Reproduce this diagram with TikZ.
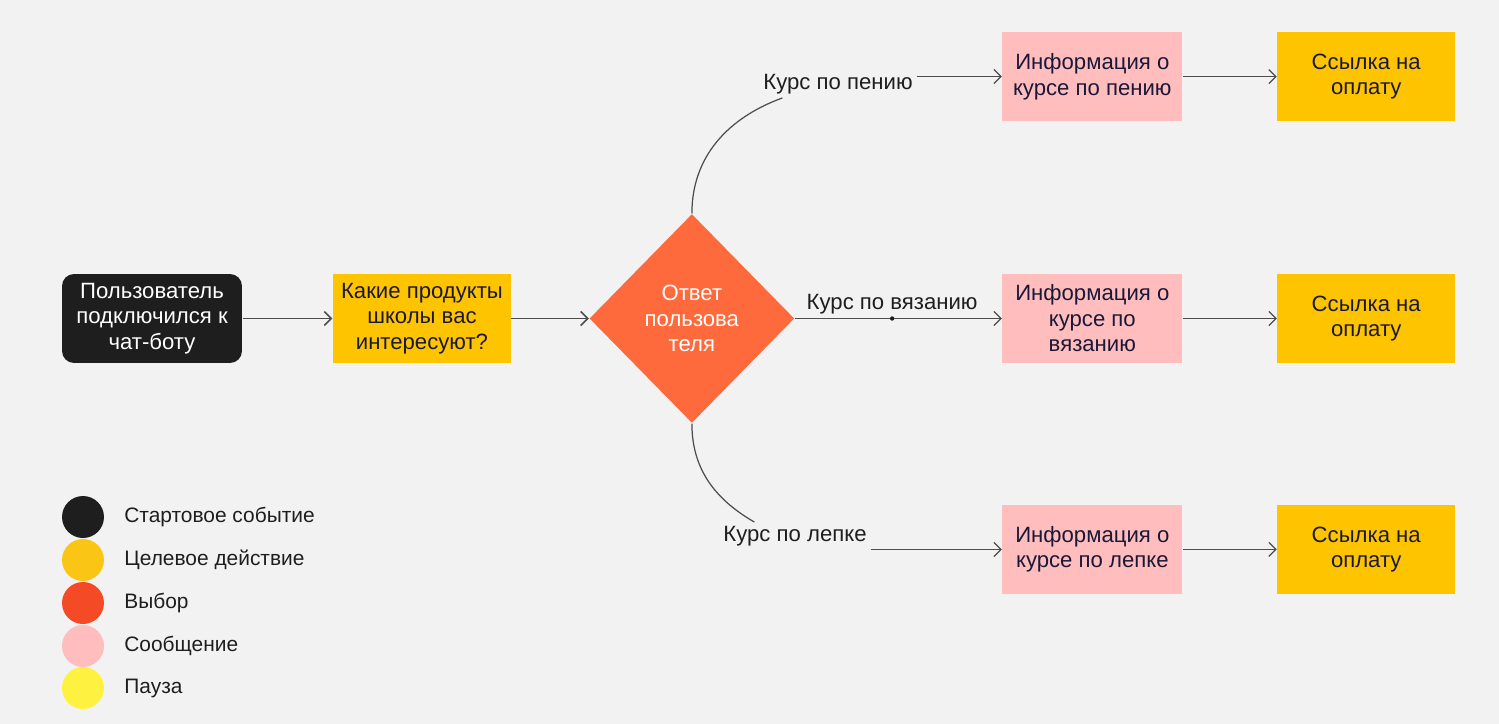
\documentclass[tikz,border=0pt]{standalone}
\usepackage{fontspec}
\setmainfont{Liberation Sans}
\usetikzlibrary{shapes.geometric,arrows.meta,positioning}

\definecolor{bgcol}{HTML}{F2F2F2}
\definecolor{startcol}{HTML}{1E1E1E}
\definecolor{targetcol}{HTML}{FFC400}
\definecolor{choicecol}{HTML}{FF6A3D}
\definecolor{msgcol}{HTML}{FFBDBD}
\definecolor{boxtext}{HTML}{1A1838}
\definecolor{linecol}{HTML}{4D4D4D}
\definecolor{legtarget}{HTML}{FAC515}
\definecolor{legchoice}{HTML}{F44A26}
\definecolor{legpause}{HTML}{FFF140}

\begin{document}
\begin{tikzpicture}[x=0.02cm, y=-0.02cm, node distance=5.4cm, semithick,
    every node/.style={font=\fontsize{12.6}{14.5}\selectfont}]
  \tikzstyle{startev} = [rectangle, rounded corners=0.24cm, fill=startcol, text=white,
    align=center, minimum width=3.6cm, minimum height=1.78cm]
  \tikzstyle{target} = [rectangle, fill=targetcol, text=boxtext, align=center,
    minimum width=3.56cm, minimum height=1.78cm]
  \tikzstyle{choice} = [diamond, fill=choicecol, text=white, align=center,
    minimum width=4.1cm, minimum height=4.18cm, inner sep=0pt]
  \tikzstyle{message} = [rectangle, fill=msgcol, text=boxtext, align=center,
    minimum width=3.6cm, minimum height=1.78cm]
  \tikzstyle{answer} = [text=startcol, inner sep=2pt]
  \tikzstyle{knotdot} = [circle, fill=startcol, inner sep=0pt, minimum size=2.5pt]
  \tikzstyle{legdot} = [circle, inner sep=0pt, minimum size=0.84cm]
  \tikzstyle{legtext} = [text=startcol, anchor=west, font=\fontsize{11.9}{14}\selectfont]
  \tikzstyle{line} = [draw=linecol, line width=0.7pt, -{Straight Barb[length=4pt,width=8pt]}]
  \tikzstyle{curve} = [draw=linecol, line width=0.7pt]

  \fill [bgcol] (0,0) rectangle (1499,724);

  % Place nodes
  \node [startev] (start) at (152,318.5) {Пользователь\\подключился к\\чат-боту};
  \node [target, right of=start] (ask) {Какие продукты\\школы вас\\интересуют?};
  \node [choice, right of=ask] (reply) {Ответ\\пользова\\теля};

  \node [message, right of=reply, node distance=8.01cm] (info2) {Информация о\\курсе по\\вязанию};
  \node [message, above of=info2, node distance=4.84cm] (info1) {Информация о\\курсе по пению};
  \node [message, below of=info2, node distance=4.62cm] (info3) {Информация о\\курсе по лепке};

  \node [target, right of=info1, node distance=5.48cm] (pay1) {Ссылка на\\оплату};
  \node [target, right of=info2, node distance=5.48cm] (pay2) {Ссылка на\\оплату};
  \node [target, right of=info3, node distance=5.48cm] (pay3) {Ссылка на\\оплату};

  \node [answer] (sing) at (838,84) {Курс по пению};
  \node [answer] (clay) at (795,536) {Курс по лепке};

  % Legend
  \node [legdot, fill=startcol] (leg1) at (83,517) {};
  \node [legdot, fill=legtarget] (leg2) at (83,560) {};
  \node [legdot, fill=legchoice] (leg3) at (83,603) {};
  \node [legdot, fill=msgcol] (leg4) at (83,646) {};
  \node [legdot, fill=legpause] (leg5) at (83,688) {};
  \node [legtext] (legtxt1) at (118,517) {Стартовое событие};
  \node [legtext] (legtxt2) at (118,560) {Целевое действие};
  \node [legtext] (legtxt3) at (118,603) {Выбор};
  \node [legtext] (legtxt4) at (118,646) {Сообщение};
  \node [legtext] (legtxt5) at (118,688) {Пауза};

  % Draw edges
  \path [line, line width=0.9pt] (start) -- (ask);
  \path [line, line width=0.9pt] (ask) -- (reply);

  \path [curve] (reply.north) to[out=90, in=200] ([xshift=0.46cm]sing.south west);
  \path [line] (sing.east |- info1.west) -- (info1.west);

  \path [line] (reply.east) -- node[answer, above, pos=0.47] (knit) {Курс по вязанию} (info2.west);
  \path (reply.east) -- node[knotdot, pos=0.47] (knot) {} (info2.west);

  \path [curve] (reply.south) to[out=-90, in=150] ([xshift=0.7cm]clay.north west);
  \path [line] (clay.east |- info3.west) -- (info3.west);

  \path [line] (info1) -- (pay1);
  \path [line] (info2) -- (pay2);
  \path [line] (info3) -- (pay3);

\end{tikzpicture}
\end{document}
